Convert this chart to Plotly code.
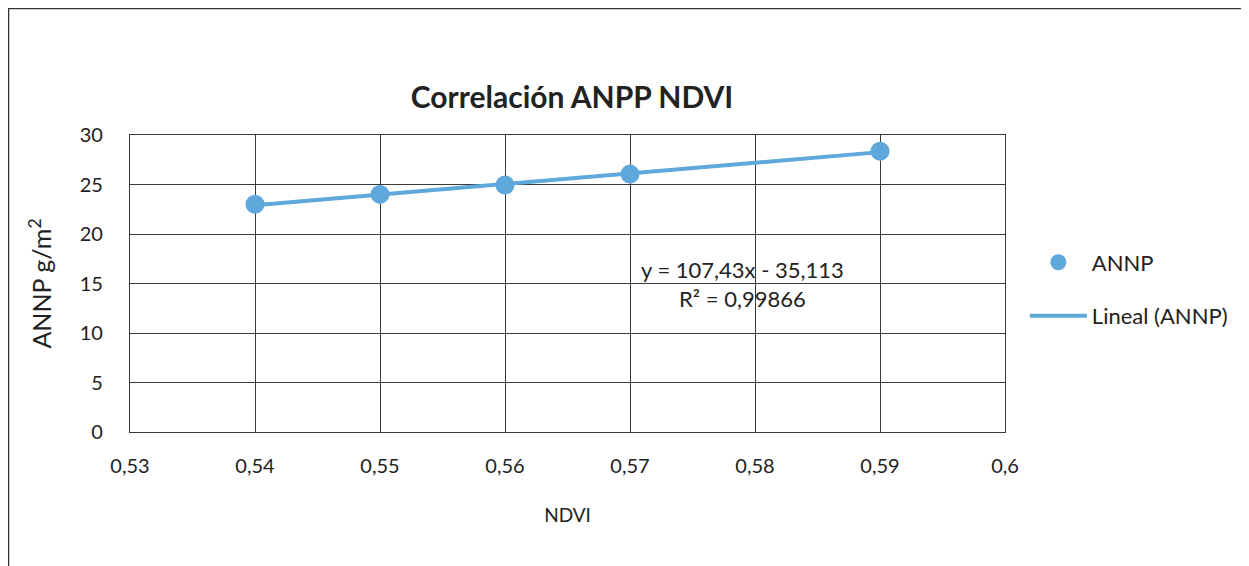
import plotly.graph_objects as go

ndvi = [0.54, 0.55, 0.56, 0.57, 0.59]
annp = [23.0, 24.0, 24.95, 26.05, 28.35]
slope = 107.43
intercept = -35.113
r2_text = "0,99866"
x_ticks = [0.53, 0.54, 0.55, 0.56, 0.57, 0.58, 0.59, 0.60]
x_labels = ["0,53", "0,54", "0,55", "0,56", "0,57", "0,58", "0,59", "0,6"]
y_ticks = [0, 5, 10, 15, 20, 25, 30]

blue = "#5fa8dc"
grid = "#3a3a3a"
font = "Lato"

trend_x = [min(ndvi), max(ndvi)]
trend_y = [slope * v + intercept for v in trend_x]

fig = go.Figure()
fig.add_trace(go.Scatter(x=ndvi, y=annp, mode="markers", name="ANNP",
                         marker=dict(color=blue, size=19), legendgroup="a"))
fig.add_trace(go.Scatter(x=trend_x, y=trend_y, mode="lines", name="Lineal (ANNP)",
                         line=dict(color=blue, width=4), legendgroup="b"))

fig.add_annotation(x=0.5790, y=14.9, xref="x", yref="y",
                   text="y = 107,43x - 35,113<br>R² = " + r2_text,
                   showarrow=False, align="center",
                   font=dict(family=font, size=22, color="#222"))

axis_common = dict(showgrid=True, gridcolor=grid, gridwidth=1.3,
                   showline=True, linecolor=grid, linewidth=1.3, mirror=True,
                   zeroline=False, ticks="", tickfont=dict(family=font, size=20, color="#222"))

fig.update_xaxes(range=[0.53, 0.60], tickvals=x_ticks, ticktext=x_labels,
                 ticklabelstandoff=16,
                 title=dict(text="NDVI", font=dict(family=font, size=19, color="#222"), standoff=32),
                 **axis_common)
fig.update_yaxes(range=[0, 30], tickvals=y_ticks,
                 ticklabelstandoff=22,
                 title=dict(text="ANNP g/m<sup>2</sup>", font=dict(family=font, size=25, color="#222"), standoff=20),
                 **axis_common)

fig.update_layout(
    width=1249, height=566,
    margin=dict(l=122, r=252, t=127, b=142, autoexpand=False),
    paper_bgcolor="white", plot_bgcolor="white",
    separators=", ",
    title=dict(text="<b>Correlación ANPP NDVI</b>", x=0.4516, xanchor="center",
               y=0.841, yanchor="middle",
               font=dict(family=font, size=30, color="#222")),
    legend=dict(x=1.0227, xanchor="left", y=0.48, yanchor="middle",
                font=dict(family=font, size=22, color="#222"),
                tracegroupgap=22, itemwidth=57, bgcolor="rgba(0,0,0,0)"),
    shapes=[
        dict(type="line", xref="paper", yref="paper", x0=-0.1394, x1=1.3, y0=1.4276, y1=1.4276,
             line=dict(color="#333", width=2.5)),
        dict(type="line", xref="paper", yref="paper", x0=-0.1394, x1=-0.1394, y0=1.4276, y1=-0.46,
             line=dict(color="#333", width=2.5)),
    ],
)

fig.write_html("out.html")
